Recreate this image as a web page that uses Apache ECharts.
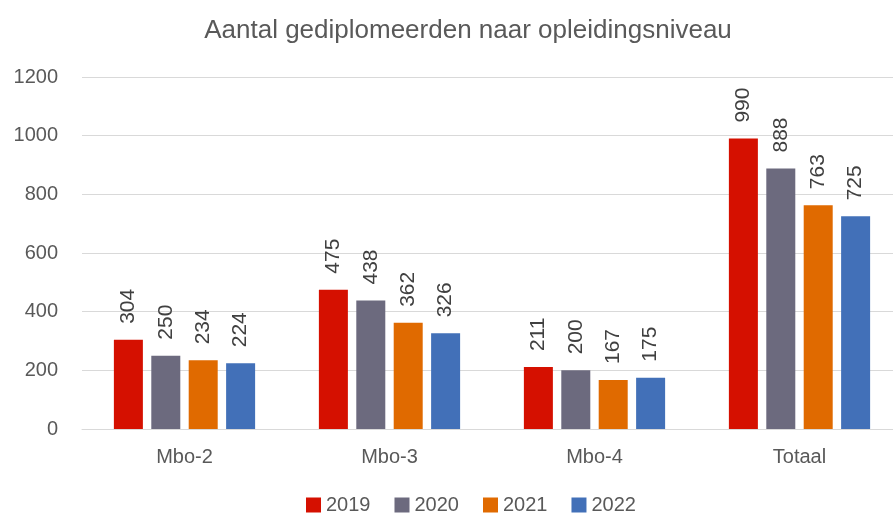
<!DOCTYPE html>
<html>
<head>
<meta charset="utf-8">
<script src="https://cdn.jsdelivr.net/npm/echarts@6/dist/echarts.min.js"></script>
<style>
  html, body { margin: 0; padding: 0; background: #fff; overflow: hidden; }
  #chart { width: 902px; height: 520px; }
</style>
</head>
<body>
<div id="chart"></div>
<script>
var categories = ['Mbo-2', 'Mbo-3', 'Mbo-4', 'Totaal'];
var years = ['2019', '2020', '2021', '2022'];
var values2019 = [304, 475, 211, 990];
var values2020 = [250, 438, 200, 888];
var values2021 = [234, 362, 167, 763];
var values2022 = [224, 326, 175, 725];
var colors = ['#d51000', '#6c6a7e', '#e06a00', '#4270b8'];

var font = 'Liberation Sans, Arial, sans-serif';
var allValues = [values2019, values2020, values2021, values2022];

var series = [];
for (var i = 0; i < years.length; i++) {
    series.push({
        name: years[i],
        type: 'bar',
        data: allValues[i],
        barWidth: 29,
        barGap: '29%',
        itemStyle: { color: colors[i] },
        label: {
            show: true,
            position: 'top',
            rotate: 90,
            align: 'left',
            verticalAlign: 'middle',
            distance: 16,
            color: '#404040',
            fontSize: 21,
            fontFamily: font
        }
    });
}

// chart is a bit wider than the window: the plot area runs past the right edge
var myChart = echarts.init(document.getElementById('chart'));
myChart.setOption({
    animation: false,
    color: colors,
    title: {
        text: 'Aantal gediplomeerden naar opleidingsniveau',
        left: 463,
        textAlign: 'center',
        top: 13,
        textStyle: {
            color: '#595959',
            fontSize: 26,
            fontWeight: 'normal',
            fontFamily: font
        }
    },
    legend: {
        data: years,
        bottom: 0,
        left: 301,
        itemWidth: 15,
        itemHeight: 15,
        itemGap: 24,
        icon: 'rect',
        textStyle: { color: '#595959', fontSize: 20, fontFamily: font }
    },
    grid: { left: 82, right: 0, top: 77, bottom: 91, containLabel: false },
    xAxis: {
        type: 'category',
        data: categories,
        axisTick: { show: false },
        axisLine: { lineStyle: { color: '#d9d9d9', width: 1 } },
        axisLabel: { color: '#595959', fontSize: 20, fontFamily: font, margin: 18 }
    },
    yAxis: {
        type: 'value',
        min: 0,
        max: 1200,
        interval: 200,
        axisLine: { show: false },
        axisTick: { show: false },
        splitLine: { lineStyle: { color: '#d9d9d9', width: 1 } },
        axisLabel: {
            color: '#595959',
            fontSize: 20,
            fontFamily: font,
            margin: 24,
            formatter: function (v) { return String(v); }
        }
    },
    series: series
});
</script>
</body>
</html>
